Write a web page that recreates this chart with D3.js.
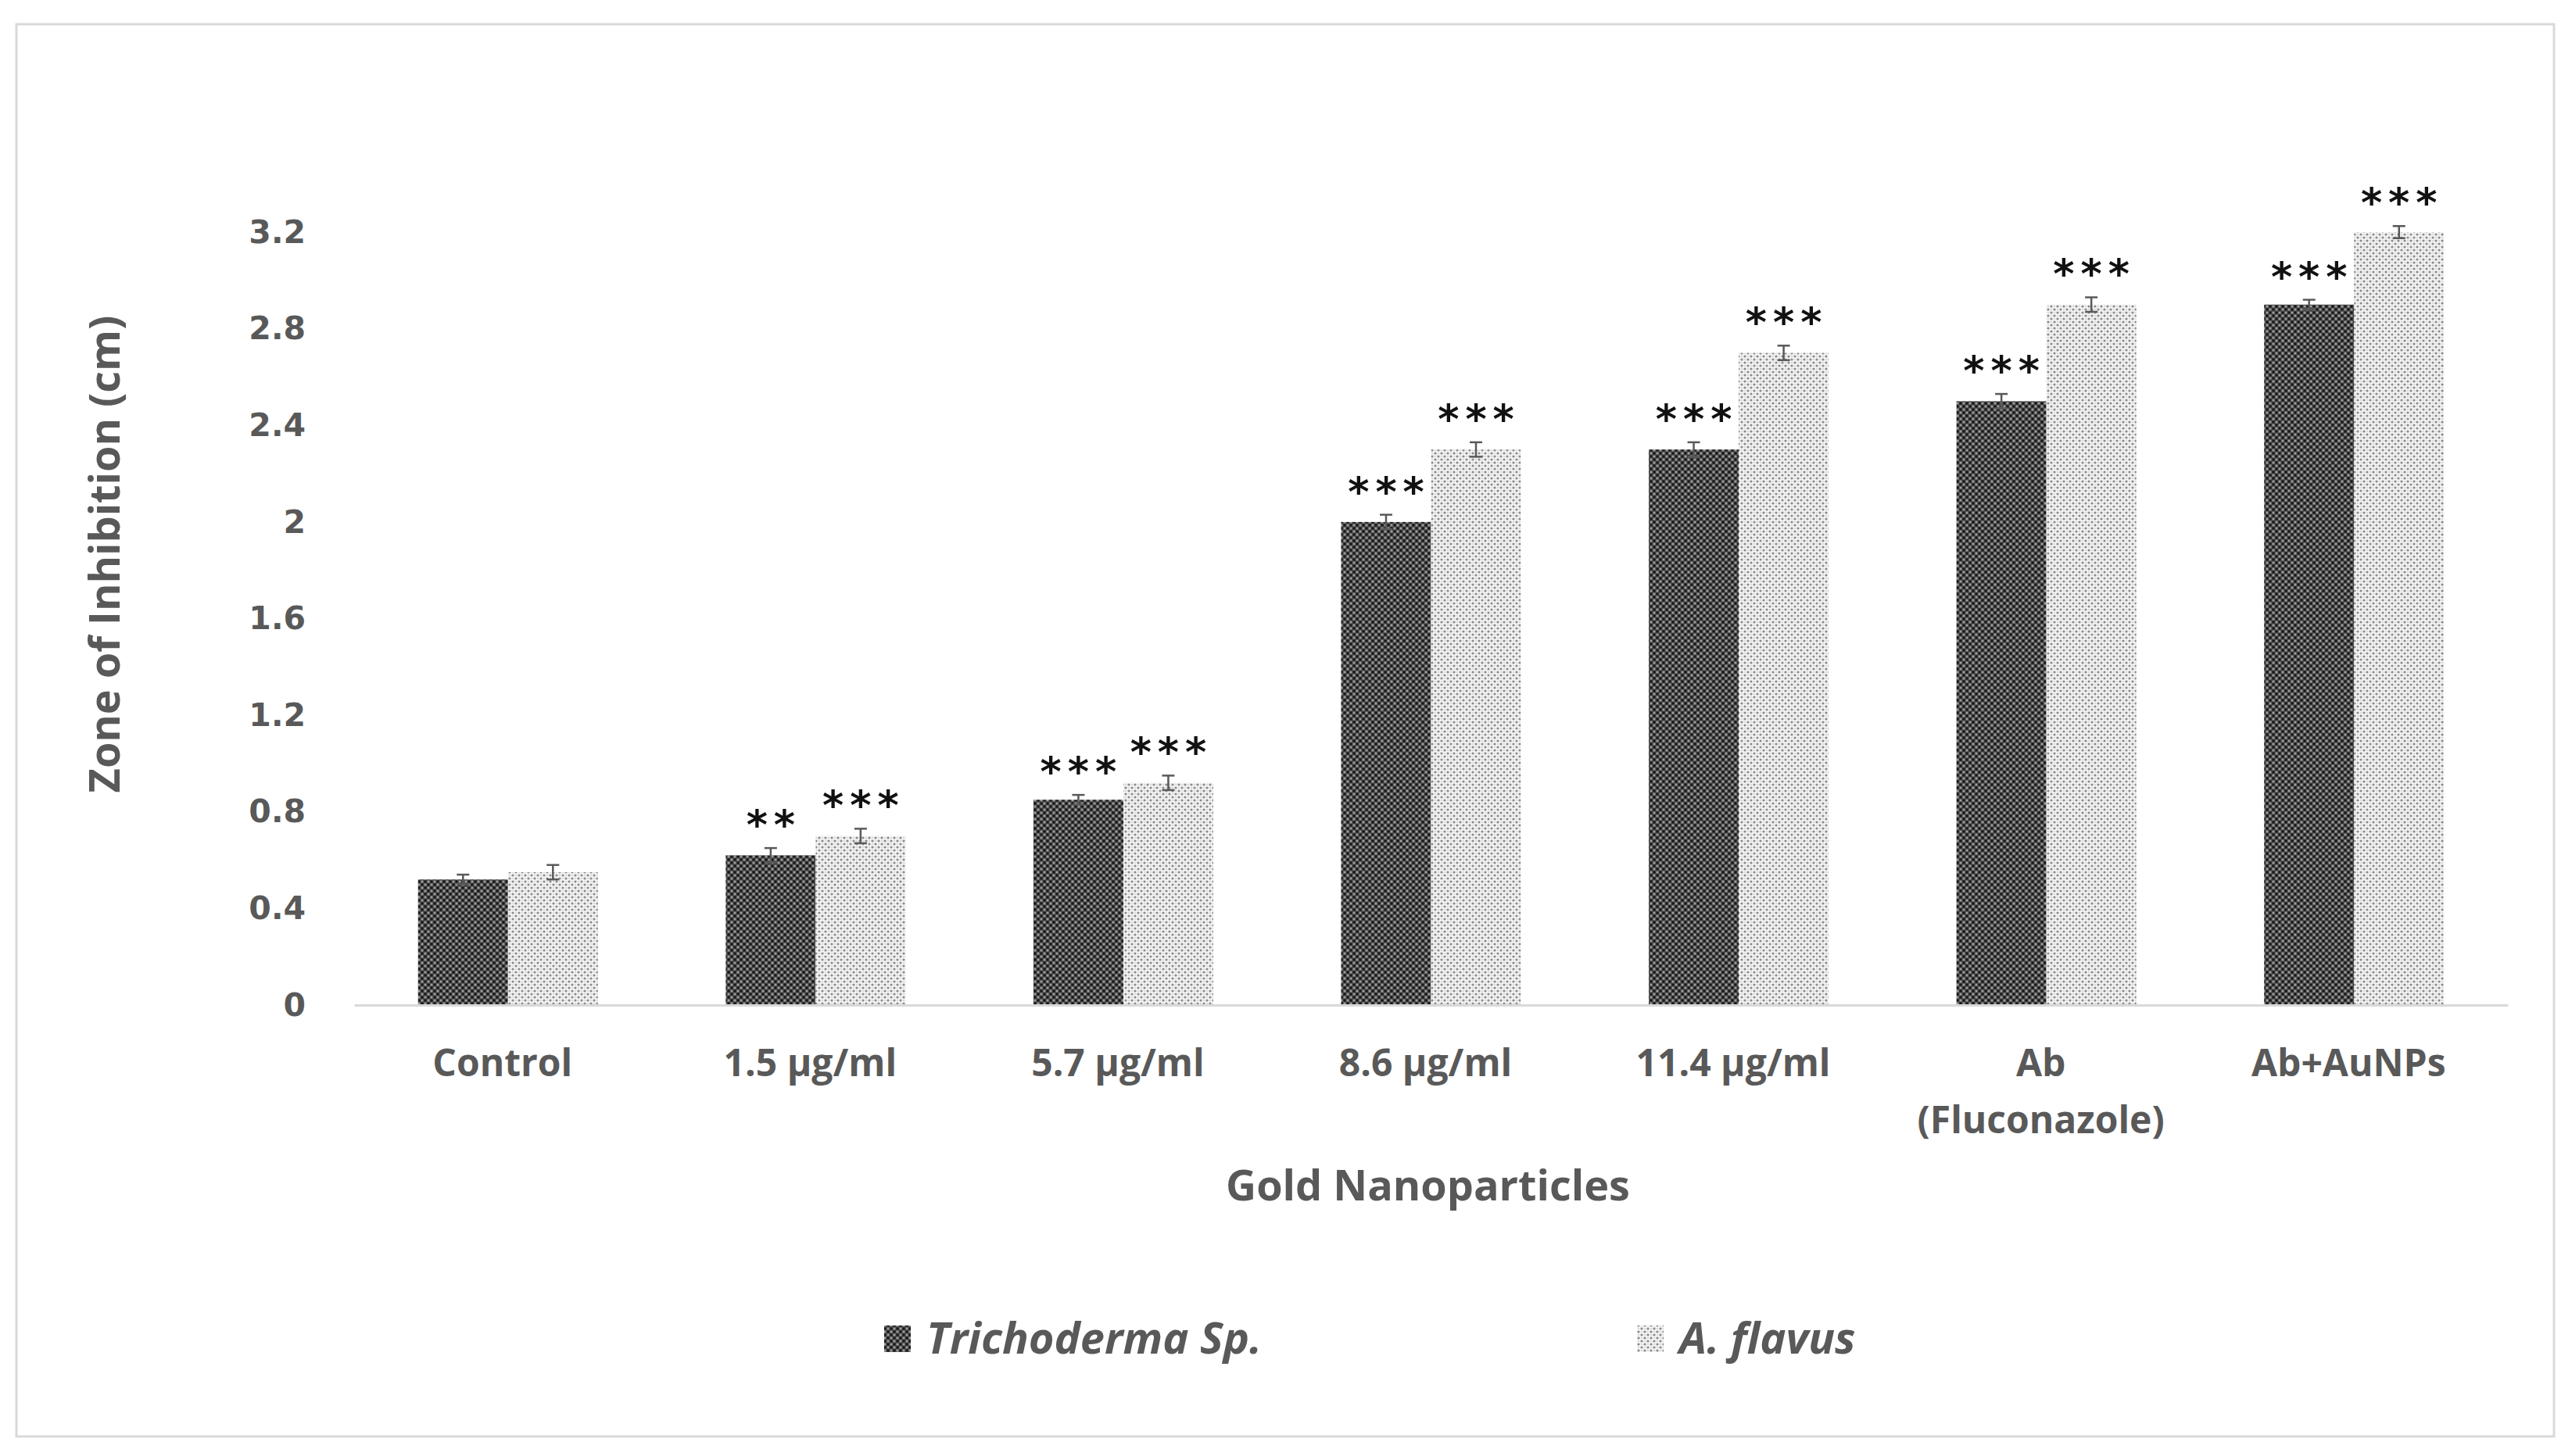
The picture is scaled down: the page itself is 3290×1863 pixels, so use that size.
<!DOCTYPE html>
<html>
<head>
<meta charset="utf-8">
<script src="https://cdn.jsdelivr.net/npm/d3@7/dist/d3.min.js"></script>
<style>
  html, body { margin: 0; padding: 0; background: #fff; }
  svg { display: block; }
</style>
</head>
<body>
<svg id="chart" width="3290" height="1863"></svg>
<script>
// ---------------- data ----------------
const categories = ["Control", "1.5 µg/ml", "5.7 µg/ml", "8.6 µg/ml", "11.4 µg/ml", "Ab|(Fluconazole)", "Ab+AuNPs"];
const seriesNames = ["Trichoderma Sp.", "A. flavus"];
const trichoderma = [0.52, 0.62, 0.85, 2.00, 2.30, 2.50, 2.90];
const flavus      = [0.55, 0.70, 0.92, 2.30, 2.70, 2.90, 3.20];
const trichodermaErr = [0.02, 0.03, 0.02, 0.03, 0.03, 0.03, 0.02];
const flavusErr      = [0.03, 0.03, 0.03, 0.03, 0.03, 0.03, 0.025];
const trichodermaSig = ["", "**", "***", "***", "***", "***", "***"];
const flavusSig      = ["", "***", "***", "***", "***", "***", "***"];
const yTicks = [0, 0.4, 0.8, 1.2, 1.6, 2, 2.4, 2.8, 3.2];
const xTitle = "Gold Nanoparticles";
const yTitle = "Zone of Inhibition (cm)";

// ---------------- setup ----------------
const svg = d3.select("#chart");
const textColor = "#595959";
const catFont = "'Open Sans', sans-serif";

const defs = svg.append("defs");
// dark pattern
const pd = defs.append("pattern").attr("id", "patDark")
  .attr("patternUnits", "userSpaceOnUse").attr("width", 8).attr("height", 8);
pd.append("rect").attr("width", 8).attr("height", 8).attr("fill", "#4e4e4e");
[[0,0],[8,0],[0,8],[8,8],[4,4]].forEach(([cx,cy]) =>
  pd.append("circle").attr("cx", cx).attr("cy", cy).attr("r", 1.7).attr("fill", "#161616"));
[[4,0],[0,4],[8,4],[4,8]].forEach(([cx,cy]) =>
  pd.append("circle").attr("cx", cx).attr("cy", cy).attr("r", 1.5).attr("fill", "#a0a0a0"));
// light pattern
const pl = defs.append("pattern").attr("id", "patLight")
  .attr("patternUnits", "userSpaceOnUse").attr("width", 8).attr("height", 8);
pl.append("rect").attr("width", 8).attr("height", 8).attr("fill", "#f4f4f4");
[[0,0],[8,0],[0,8],[8,8],[4,4]].forEach(([cx,cy]) =>
  pl.append("circle").attr("cx", cx).attr("cy", cy).attr("r", 1.6).attr("fill", "#8a8a8a"));
[[4,0],[0,4],[8,4],[4,8]].forEach(([cx,cy]) =>
  pl.append("circle").attr("cx", cx).attr("cy", cy).attr("r", 1.0).attr("fill", "#d0d0d0"));
const fills = ["url(#patDark)", "url(#patLight)"];

// background + frame
svg.append("rect").attr("width", 3290).attr("height", 1863).attr("fill", "#fff");
svg.append("rect").attr("x", 21).attr("y", 31).attr("width", 3246).attr("height", 1807)
  .attr("fill", "none").attr("stroke", "#d9d9d9").attr("stroke-width", 3);

// scales
const plotLeft = 453, plotRight = 3208, plotBottom = 1286, plotTop = 297;
const x = d3.scaleBand().domain(categories).range([plotLeft, plotRight])
  .paddingInner(0.4155).paddingOuter(0.4155 / 2);
const x1 = d3.scaleBand().domain(seriesNames).range([0, x.bandwidth()]);
const y = d3.scaleLinear().domain([0, 3.2]).range([plotBottom, plotTop]);

// rows
const values = [trichoderma, flavus];
const errs = [trichodermaErr, flavusErr];
const sigs = [trichodermaSig, flavusSig];
const rows = [];
categories.forEach((c, i) => seriesNames.forEach((s, j) => {
  rows.push({ cat: c, series: s, j, v: values[j][i], e: errs[j][i], sig: sigs[j][i] });
}));

// y axis
const yAxis = d3.axisLeft(y).tickValues(yTicks).tickSize(0).tickPadding(62)
  .tickFormat(d => d3.format("")(+d.toFixed(1)));
const gy = svg.append("g").attr("transform", `translate(${plotLeft},0)`).call(yAxis);
gy.select(".domain").remove();
gy.selectAll("text").attr("fill", textColor)
  .style("font-family", "'DejaVu Sans', sans-serif").style("font-weight", "bold")
  .style("font-size", "41px");

// bars
const g = svg.append("g");
g.selectAll("rect.bar").data(rows).enter().append("rect")
  .attr("class", "bar")
  .attr("x", d => x(d.cat) + x1(d.series))
  .attr("width", x1.bandwidth())
  .attr("y", d => y(d.v))
  .attr("height", d => y(0) - y(d.v))
  .attr("fill", d => fills[d.j]);

// x axis line
const xAxis = d3.axisBottom(x).tickSize(0).tickFormat("");
const gx = svg.append("g").attr("transform", `translate(0,${plotBottom})`).call(xAxis);
gx.select(".domain").attr("stroke", "#d9d9d9").attr("stroke-width", 3);

// error bars
const eb = g.selectAll("g.err").data(rows).enter().append("g").attr("class", "err")
  .attr("stroke", "#595959").attr("stroke-width", 2.5);
const cx = d => x(d.cat) + x1(d.series) + x1.bandwidth() / 2;
eb.append("line").attr("x1", cx).attr("x2", cx)
  .attr("y1", d => y(d.v + d.e)).attr("y2", d => y(d.v - d.e));
eb.append("line").attr("x1", d => cx(d) - 8).attr("x2", d => cx(d) + 8)
  .attr("y1", d => y(d.v + d.e)).attr("y2", d => y(d.v + d.e));
eb.append("line").attr("x1", d => cx(d) - 8).attr("x2", d => cx(d) + 8)
  .attr("y1", d => y(d.v - d.e)).attr("y2", d => y(d.v - d.e));

// significance stars
g.selectAll("text.sig").data(rows.filter(d => d.sig)).enter().append("text")
  .attr("class", "sig")
  .attr("x", d => cx(d) + 4)
  .attr("y", d => y(d.v + d.e) - 12)
  .attr("text-anchor", "middle")
  .style("font-family", "'DejaVu Sans', sans-serif")
  .style("font-weight", "bold")
  .style("font-size", "52px")
  .style("letter-spacing", "8px")
  .attr("fill", "#111")
  .text(d => d.sig);

// category labels
svg.append("g").selectAll("text.cat").data(categories).enter().append("text")
  .attr("class", "cat")
  .attr("text-anchor", "middle")
  .attr("fill", textColor)
  .style("font-family", catFont).style("font-weight", "bold").style("font-size", "48px")
  .each(function (d) {
    const t = d3.select(this);
    d.split("|").forEach((line, k) => {
      t.append("tspan").attr("x", x(d) + x.bandwidth() / 2 - 7)
        .attr("y", 1377 + k * 73).text(line);
    });
  });

// axis titles
svg.append("text").attr("x", (plotLeft + plotRight) / 2 - 4).attr("y", 1536)
  .attr("text-anchor", "middle").attr("fill", textColor)
  .style("font-family", catFont).style("font-weight", "bold").style("font-size", "54px")
  .text(xTitle);
svg.append("text").attr("transform", "translate(153,709) rotate(-90)")
  .attr("text-anchor", "middle").attr("fill", textColor)
  .style("font-family", catFont).style("font-weight", "bold").style("font-size", "54px")
  .text(yTitle);

// legend
const legendX = [1131, 2094];
const lg = svg.append("g").selectAll("g.leg").data(seriesNames).enter().append("g")
  .attr("class", "leg");
lg.append("rect").attr("x", (d, i) => legendX[i]).attr("y", 1696)
  .attr("width", 34).attr("height", 34).attr("fill", (d, i) => fills[i]);
lg.append("text").attr("x", (d, i) => legendX[i] + 54).attr("y", 1732)
  .attr("fill", textColor)
  .style("font-family", catFont).style("font-weight", "bold").style("font-style", "italic")
  .style("font-size", "56px")
  .text(d => d);
</script>
</body>
</html>
